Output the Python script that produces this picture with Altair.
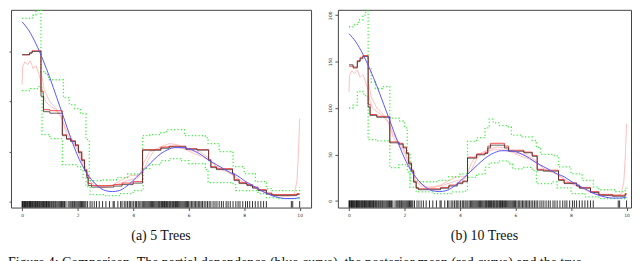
import altair as alt
import pandas as pd

# ---------------- data ----------------
RUG_X = [0.0, 0.02, 0.04, 0.07, 0.09, 0.12, 0.14, 0.17, 0.19, 0.22, 0.25, 0.27, 0.3, 0.32,
         0.35, 0.37, 0.4, 0.43, 0.46, 0.48, 0.51, 0.54, 0.56, 0.6, 0.62, 0.65, 0.68, 0.71,
         0.74, 0.77, 0.8, 0.83, 0.86, 0.88, 0.91, 0.95, 0.98, 1.01, 1.05, 1.08, 1.12, 1.15,
         1.19, 1.22, 1.26, 1.3, 1.34, 1.38, 1.42, 1.46, 1.5, 1.53, 1.58, 1.66, 1.72, 1.76,
         1.8, 1.83, 1.87, 1.9, 1.94, 1.98, 2.02, 2.06, 2.1, 2.14, 2.18, 2.22, 2.26, 2.3,
         2.36, 2.45, 2.52, 2.6, 2.68, 2.78, 2.9, 3.02, 3.15, 3.28, 3.32, 3.45, 3.55, 3.6,
         3.68, 3.74, 3.8, 3.86, 3.9, 3.96, 4.02, 4.08, 4.12, 4.18, 4.22, 4.28, 4.33, 4.38,
         4.42, 4.46, 4.5, 4.54, 4.58, 4.62, 4.66, 4.7, 4.74, 4.78, 4.82, 4.86, 4.9, 4.93,
         4.96, 5.0, 5.03, 5.06, 5.1, 5.13, 5.16, 5.2, 5.23, 5.26, 5.3, 5.33, 5.36, 5.4,
         5.43, 5.46, 5.5, 5.53, 5.56, 5.6, 5.64, 5.68, 5.72, 5.76, 5.8, 5.84, 5.88, 5.92,
         5.96, 6.0, 6.05, 6.1, 6.15, 6.2, 6.25, 6.3, 6.35, 6.4, 6.45, 6.5, 6.56, 6.62,
         6.68, 6.74, 6.8, 6.88, 6.95, 7.02, 7.1, 7.18, 7.25, 7.35, 7.42, 7.5, 7.6, 7.7,
         7.78, 7.85, 7.95, 8.05, 8.12, 8.2, 8.3, 8.4, 8.5, 8.6, 8.7, 8.8, 9.7, 9.75, 10.0]

BLUE_X = [0, 0.25, 0.5, 0.75, 1.0, 1.25, 1.5, 1.75, 2.0, 2.25, 2.5, 2.75, 3.0, 3.25, 3.5,
          3.75, 4.0, 4.25, 4.5, 4.75, 5.0, 5.25, 5.5, 5.75, 6.0, 6.25, 6.5, 6.75, 7.0, 7.25,
          7.5, 7.75, 8.0, 8.25, 8.5, 8.75, 9.0, 9.25, 9.5, 9.75, 10.0]
BLUE_Y = [180, 171, 158, 142, 124, 104, 84, 64, 46, 32, 22, 15, 11, 10, 11,
          15, 21, 28, 35, 42, 48, 52, 54, 54, 53, 50, 46, 41, 37, 33,
          29, 26, 21, 17, 13, 9, 6, 4, 3, 3, 4]

# ---- panel (a) 5 trees ----
A_STEP_X = [0, 0.27, 0.36, 0.68, 0.77, 1.0, 1.45, 1.6, 1.75, 1.92, 2.03, 2.15, 2.25, 2.33,
            2.38, 2.5, 3.3, 3.6, 4.0, 4.34, 5.0, 5.3, 5.9, 6.3, 6.72, 6.8, 7.0, 7.58, 7.64,
            7.82, 8.1, 8.3, 8.5, 8.8, 9.0, 9.9, 10.0]
A_STEP_Y = [147, 148.6, 150.3, 105.5, 90, 88.5, 66, 62.5, 60, 56, 49, 41, 31, 24,
            16, 14.5, 15.5, 17, 18.5, 51.4, 53.4, 54.7, 52.4, 51.5, 41, 34, 32, 27.5, 21,
            18, 16, 13.5, 11, 7.6, 6.2, 7, 7]
A_RED_Y = [147, 149, 151, 110, 92, 91, 67, 63, 61, 57, 50, 42, 32, 26,
           18, 16, 17, 18.5, 20, 52, 54.5, 55.5, 53, 52, 42, 35, 33, 28.5, 22,
           19, 17, 14.5, 12, 8.5, 7, 8, 8]

A_PINK1_X = [0, 0.02, 0.1, 0.2, 0.3, 0.4, 0.5, 0.6, 0.68, 0.75, 0.85, 1.0, 1.2, 1.4, 1.6,
             1.8, 2.0, 2.2, 2.4, 2.6, 2.8, 3.0, 3.3, 3.6, 3.9, 4.2, 4.4, 4.6, 4.8, 5.0,
             5.3, 5.6, 5.9, 6.2, 6.5, 6.8, 7.1, 7.4, 7.7, 8.0, 8.3, 8.6, 8.9, 9.2, 9.5,
             9.8, 9.9, 9.95, 10.0]
A_PINK1_Y = [117, 135, 140, 137, 141, 133, 136, 128, 120, 108, 100, 96, 92, 85, 72,
             62, 54, 40, 26, 18, 15, 15, 17, 22, 26, 26, 33, 45, 52, 55,
             58, 57, 52, 48, 45, 40, 33, 30, 24, 19, 15, 11, 8, 6, 6,
             7, 20, 45, 83]
A_PINK2_X = [0.68, 0.8, 1.0, 1.2, 1.4, 1.6, 1.8, 2.0, 2.2, 2.4, 2.6, 2.8, 3.0, 3.4, 3.8,
             4.2, 4.4, 4.6, 4.9, 5.2, 5.5, 5.8, 6.1, 6.4, 6.7, 7.0, 7.3, 7.6, 7.9, 8.2,
             8.5, 8.8, 9.1, 9.5, 9.9]
A_PINK2_Y = [130, 112, 100, 94, 86, 68, 60, 52, 36, 22, 16, 14, 14, 17, 21,
             24, 40, 50, 53, 55, 55, 53, 51, 50, 44, 35, 31, 27, 20, 16,
             12, 8, 6, 5, 6]

A_UP_X = [0, 0.3, 0.4, 0.5, 0.58, 0.68, 0.85, 0.95, 1.49, 1.7, 1.9, 2.1, 2.3, 2.42, 2.9,
          3.4, 3.8, 4.34, 4.6, 5.0, 5.2, 5.85, 6.6, 6.7, 7.1, 7.6, 8.0, 8.4, 8.8, 9.0, 9.8, 10.0]
A_UP_Y = [183.5, 184, 187, 190.5, 193.5, 130, 127, 122, 104, 97, 93, 88, 62, 21, 21.6,
          24, 27.6, 66, 67, 69, 72, 66, 64, 58, 50, 35, 28, 20, 13, 11, 11, 14]
A_LO_X = [0, 0.3, 0.55, 0.7, 0.72, 1.0, 1.45, 2.0, 2.1, 2.2, 2.3, 2.45, 3.0, 3.5, 4.0,
          4.36, 4.6, 5.0, 5.3, 5.7, 6.0, 6.6, 6.7, 7.6, 7.7, 8.5, 8.8, 9.2, 10.0]
A_LO_Y = [111, 113, 115, 112, 67, 63, 37, 35, 32, 24, 15, 7, 6, 8, 11,
          33, 37, 41, 43, 41, 38, 32, 19, 17, 11, 8, 4, 3, 3]

# ---- panel (b) 10 trees ----
B_STEP_X = [0, 0.15, 0.3, 0.4, 0.5, 0.69, 0.76, 1.0, 1.47, 1.8, 1.95, 2.07, 2.15, 2.25,
            2.33, 2.42, 2.5, 3.3, 3.6, 3.9, 4.1, 4.27, 4.6, 4.9, 5.0, 5.1, 5.6, 5.75, 6.3,
            6.6, 6.78, 7.0, 7.55, 7.75, 8.2, 8.3, 8.7, 9.0, 9.5, 9.95, 10.0]
B_STEP_Y = [146.5, 144, 150, 153, 155.5, 101, 92, 90, 62.5, 61, 57, 51, 40, 32,
            20, 13.6, 12, 13.6, 16, 18.5, 20.6, 46, 49.6, 51, 57, 60, 57, 53.4, 51.8,
            48, 33, 32, 22, 18.6, 16, 13.6, 9, 6, 5, 7, 7]
B_RED_Y = [145, 143, 151, 154.5, 156.5, 104, 93, 91, 63.5, 62, 58, 52, 41, 33,
           21, 14.5, 13, 14.5, 17, 19.5, 21.5, 47, 50.5, 52, 59, 62, 59, 54.5, 52.5,
           49, 34, 33, 23, 19.5, 17, 14.5, 10, 7, 6, 8, 8]

B_UP_X = [0, 0.2, 0.35, 0.5, 0.6, 0.69, 0.8, 0.95, 1.2, 1.47, 1.8, 2.0, 2.1, 2.2, 2.5,
          3.2, 3.6, 4.0, 4.27, 4.6, 4.9, 5.05, 5.2, 5.4, 5.7, 5.85, 6.2, 6.6, 6.75, 6.9,
          7.4, 7.55, 8.0, 8.4, 8.8, 9.0, 9.6, 9.95, 10.0]
B_UP_Y = [187.5, 190, 195, 200, 206, 143, 128, 121, 123, 89, 86, 78.6, 50, 21.5, 20.6,
          22, 26, 29, 64, 68, 78.6, 88, 84, 81, 79.7, 70.8, 68.9, 65, 57.5, 50,
          48.5, 36.5, 29, 22, 15, 12, 10, 13.6, 13.6]
B_LO_X = [0, 0.15, 0.3, 0.5, 0.6, 0.69, 1.0, 1.42, 1.47, 1.8, 2.1, 2.2, 2.42, 3.0, 3.7,
          4.2, 4.27, 4.6, 4.9, 5.05, 5.4, 5.75, 5.9, 6.3, 6.6, 6.75, 7.3, 7.5, 8.0, 8.5,
          9.0, 10.0]
B_LO_Y = [100, 103, 118, 115, 112, 66, 64.5, 63, 35.8, 39, 31, 14.6, 9.6, 7.9, 9.6,
          11.3, 25.3, 28.9, 36, 41, 43, 39.7, 34.4, 36, 32.5, 18.6, 20.4, 14, 7.9, 4.3,
          2.5, 2.5]

CAPTION_A = "(a) 5 Trees"
CAPTION_B = "(b) 10 Trees"
FIG_CAPTION = ("Figure 4:  Comparison.  The partial dependence (blue curve), "
               "the posterior mean (red curve) and the true")

X_TICKS = [0, 2, 4, 6, 8, 10]
Y_TICKS = [0, 50, 100, 150, 200]


def df(xs, ys):
    return pd.DataFrame({"x": xs, "y": ys})


def panel(xdom, ydom, width, step_x, step_y, red_y, pinks, up, lo, caption, ylabels):
    xs = alt.Scale(domain=xdom, nice=False, zero=False)
    ys = alt.Scale(domain=ydom, nice=False, zero=False)
    xaxis = alt.Axis(values=X_TICKS, tickSize=3, labelFontSize=4.5, labelPadding=2,
                     domain=False, grid=False, title=None, labelColor="#333", tickColor="#555",
                     labelFont="DejaVu Sans", labelFlush=False)
    if ylabels:
        yaxis = alt.Axis(values=Y_TICKS, tickSize=3, labelFontSize=4.5, labelPadding=2,
                         labelAngle=-90, domain=False, grid=False, title=None,
                         labelColor="#333", tickColor="#555", labelFont="DejaVu Sans")
    else:
        yaxis = alt.Axis(values=Y_TICKS, tickSize=2, labels=False, domain=False,
                         grid=False, title=None, tickColor="#555")
    X = alt.X("x:Q", scale=xs, axis=xaxis)
    Y = alt.Y("y:Q", scale=ys, axis=yaxis)

    layers = []
    rug = alt.Chart(pd.DataFrame({"x": RUG_X})).mark_rule(
        color="#000", strokeWidth=0.9, opacity=0.9).encode(
        x=X, y=alt.datum(0.5, scale=ys), y2=alt.datum(ydom[0]))
    layers.append(rug)
    for px, py in pinks:
        layers.append(alt.Chart(df(px, py)).mark_line(
            color="#ffc0c0", strokeWidth=1, clip=True).encode(x=X, y=Y))
    layers.append(alt.Chart(df(up[0], up[1])).mark_line(
        color="#3cf03c", strokeWidth=1.3, strokeDash=[1.2, 2.2], interpolate="step-after",
        clip=True).encode(x=X, y=Y))
    layers.append(alt.Chart(df(lo[0], lo[1])).mark_line(
        color="#3cf03c", strokeWidth=1.3, strokeDash=[1.2, 2.2], interpolate="step-after",
        clip=True).encode(x=X, y=Y))
    layers.append(alt.Chart(df(step_x, red_y)).mark_line(
        color="#ee3030", strokeWidth=1.0, interpolate="step-after", clip=True,
        opacity=0.85).encode(x=X, y=Y))
    layers.append(alt.Chart(df(step_x, step_y)).mark_line(
        color="#2a2020", strokeWidth=0.9, interpolate="step-after", clip=True,
        opacity=0.8).encode(x=X, y=Y))
    layers.append(alt.Chart(df(BLUE_X, BLUE_Y)).mark_line(
        color="#5858ff", strokeWidth=1.0, interpolate="monotone", clip=True).encode(x=X, y=Y))

    return alt.layer(*layers).properties(
        width=width, height=199,
        title=alt.TitleParams(caption, orient="bottom", font="Liberation Serif", fontSize=14,
                              fontWeight="normal", color="#111", offset=12, anchor="middle"))


pa = panel([-0.4, 10.41], [-6, 192], 302, A_STEP_X, A_STEP_Y, A_RED_Y,
           [(A_PINK1_X, A_PINK1_Y), (A_PINK2_X, A_PINK2_Y)],
           (A_UP_X, A_UP_Y), (A_LO_X, A_LO_Y), CAPTION_A, False)
pb = panel([-0.4, 10.16], [-7.2, 205.7], 295, B_STEP_X, B_STEP_Y, B_RED_Y,
           [(A_PINK1_X, A_PINK1_Y), (A_PINK2_X, A_PINK2_Y)],
           (B_UP_X, B_UP_Y), (B_LO_X, B_LO_Y), CAPTION_B, True)

chart = alt.hconcat(pa, pb, spacing=15).properties(
    padding=0,
    background="white",
    title=alt.TitleParams(FIG_CAPTION, orient="bottom", anchor="start", font="Liberation Serif",
                          fontSize=14, fontWeight="normal", color="#111", offset=13),
).configure_view(stroke="#444", strokeWidth=1)

chart.save("out.html", embed_options={"renderer": "svg", "actions": False})
